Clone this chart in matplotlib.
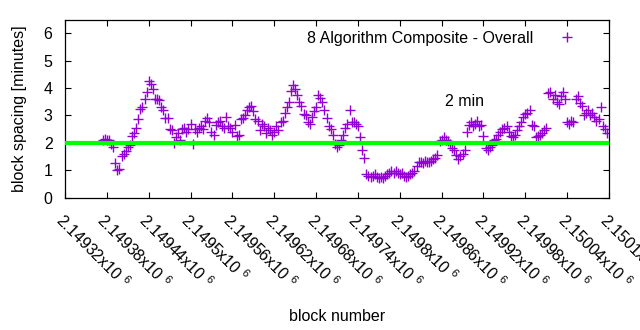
import numpy as np
import matplotlib
matplotlib.use('Agg')
import matplotlib.pyplot as plt

plt.rcParams['font.family'] = ['Liberation Sans', 'DejaVu Sans']
plt.rcParams['mathtext.fontset'] = 'custom'
plt.rcParams['mathtext.rm'] = 'Liberation Sans'
plt.rcParams['mathtext.it'] = 'Liberation Sans'

# block spacing (minutes), one reading every 3 blocks from the first plotted block
first_block = 2149374
block_step = 3
spacing = [
    2.1, 2.15, 2.1, 2.1, 1.95, 1.85, 1.25, 1.0, 1.05, 1.5,
    1.6, 1.7, 1.85, 1.9, 2.25, 2.35, 2.55, 2.85, 3.25, 3.3,
    3.6, 3.85, 4.25, 4.15, 3.95, 3.6, 3.6, 3.55, 3.3, 3.2,
    2.9, 2.9, 2.5, 2.45, 2.0, 2.2, 2.35, 2.1, 2.5, 2.55,
    2.4, 2.5, 2.7, 1.95, 2.5, 2.4, 2.55, 2.6, 2.5, 2.8,
    2.9, 2.75, 2.4, 2.3, 2.65, 2.75, 2.8, 2.6, 2.55, 2.95,
    2.6, 2.55, 2.4, 2.65, 2.25, 2.3, 2.85, 2.9, 3.0, 3.2,
    3.3, 3.35, 3.15, 2.85, 2.8, 2.45, 2.7, 2.6, 2.35, 2.55,
    2.45, 2.3, 2.4, 2.6, 2.45, 2.75, 2.8, 3.1, 3.3, 3.5,
    3.9, 4.1, 3.95, 3.75, 3.5, 3.35, 3.05, 3.0, 2.75, 2.7,
    2.95, 3.15, 3.3, 3.75, 3.65, 3.5, 3.2, 2.9, 2.6, 2.5,
    2.3, 1.95, 1.85, 1.9, 2.1, 2.3, 2.55, 2.7, 3.2, 2.75,
    2.75, 2.7, 2.6, 2.2, 1.75, 1.45, 0.85, 0.8, 0.75, 0.8,
    0.85, 0.75, 0.7, 0.75, 0.7, 0.8, 0.85, 0.9, 0.95, 0.9,
    0.95, 0.9, 0.85, 0.9, 0.8, 0.75, 0.8, 0.85, 0.9, 0.95,
    1.15, 1.3, 1.3, 1.25, 1.35, 1.3, 1.3, 1.35, 1.4, 1.45,
    1.55, 2.05, 2.1, 2.2, 2.1, 2.05, 1.95, 1.8, 1.75, 1.55,
    1.4, 1.5, 1.6, 1.75, 2.4, 2.65, 2.75, 2.6, 2.7, 2.8,
    2.6, 2.65, 2.25, 1.8, 1.75, 1.85, 1.9, 2.1, 2.15, 2.3,
    2.4, 2.5, 2.55, 2.6, 2.4, 2.25, 2.2, 2.3, 2.45, 2.6,
    2.75, 2.95, 3.05, 3.1, 3.2, 2.65, 2.6, 2.2, 2.25, 2.3,
    2.35, 2.45, 2.55, 3.8, 3.85, 3.6, 3.75, 3.5, 3.4, 3.7,
    3.85, 3.6, 2.75, 2.7, 2.8, 2.75, 3.6, 3.7, 3.45, 3.35,
    3.0, 3.1, 3.2, 3.0, 3.1, 2.95, 2.8, 2.85, 3.3, 2.6,
    2.5, 2.35,
]
blocks = first_block + block_step * np.arange(len(spacing))

target_minutes = 2.0
x_ticks = [2149320, 2149380, 2149440, 2149500, 2149560, 2149620, 2149680,
           2149740, 2149800, 2149860, 2149920, 2149980, 2150040, 2150100]
x_tick_text = ['2.14932', '2.14938', '2.14944', '2.1495', '2.14956', '2.14962', '2.14968',
               '2.14974', '2.1498', '2.14986', '2.14992', '2.14998', '2.15004', '2.1501']

fs = 11.5

fig = plt.figure(figsize=(6.4, 3.3), dpi=100)
ax = fig.add_axes([0.1016, 0.4015, 0.85, 0.5394])

ax.plot(blocks, spacing, linestyle='none', marker='+', markersize=7,
        markeredgewidth=1.0, color='#9400d3', label='8 Algorithm Composite - Overall')
ax.axhline(target_minutes, color='#00ff00', linewidth=3, zorder=3)
ax.text(2149893, 3.5, '2 min', fontsize=fs, ha='center', va='center')

ax.set_xlim(x_ticks[0], x_ticks[-1])
ax.set_ylim(0, 6.5)
ax.set_yticks([0, 1, 2, 3, 4, 5, 6])
ax.set_xticks(x_ticks)
ax.set_xticklabels([t + r'x10 $^{6}$' for t in x_tick_text], rotation=-45,
                   ha='left', va='top', rotation_mode='anchor')

ax.tick_params(direction='in', length=4, width=0.8, top=True, right=True,
               labelsize=fs)
ax.tick_params(axis='y', pad=9)
ax.tick_params(axis='x', pad=9)
for s in ax.spines.values():
    s.set_linewidth(0.9)

ax.set_ylabel('block spacing [minutes]', fontsize=fs, labelpad=12)
ax.set_xlabel('block number', fontsize=fs, labelpad=13)

ax.legend(loc='upper right', frameon=False, markerfirst=False, fontsize=fs,
          handlelength=1.5, handletextpad=1.35, borderaxespad=0.3,
          bbox_to_anchor=(0.9645, 1.0))

plt.savefig('out.png', dpi=100)
plt.close()
